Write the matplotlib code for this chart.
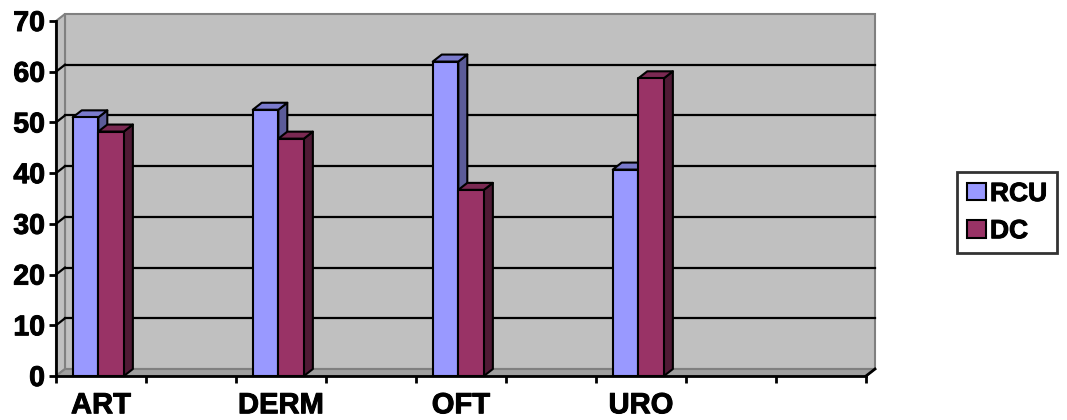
import numpy as np
import matplotlib
matplotlib.use('Agg')
import matplotlib.pyplot as plt
from matplotlib.patches import Polygon, Patch
import matplotlib.patheffects as pe

plt.rcParams['font.family'] = ['Liberation Sans', 'DejaVu Sans']
plt.rcParams['font.weight'] = 'bold'

categories = ['ART', '', 'DERM', '', 'OFT', '', 'URO', '', '']
rcu = [51.0, np.nan, 52.5, np.nan, 62.0, np.nan, 40.7, np.nan, np.nan]
dc = [48.2, np.nan, 46.8, np.nan, 36.7, np.nan, 58.7, np.nan, np.nan]
series_names = ['RCU', 'DC']
yticks = np.arange(0, 80, 10)

# face, top and side colours for each series
face_cols = ['#9999ff', '#993366']
top_cols = ['#7a7acc', '#7a2952']
side_cols = ['#5c5c99', '#4f1a35']

W, H, DPI = 1067, 420, 100
fig = plt.figure(figsize=(W / DPI, H / DPI), dpi=DPI)
left, right, bottom, top = 56, 866, 376, 21
ax = fig.add_axes([left / W, 1 - bottom / H, (right - left) / W, (bottom - top) / H])
n = len(categories)
ymax = yticks[-1]
ax.set_xlim(0, n)
ax.set_ylim(0, ymax)
ax.patch.set_visible(False)

# depth of the box in pixels, converted to data units
dpx, dpy = 9, 7
dx = dpx / ((right - left) / n)
dy = dpy / ((bottom - top) / ymax)

wall = dict(facecolor='#c0c0c0', edgecolor='#808080', lw=1.5, clip_on=False)
ax.add_patch(Polygon([(dx, dy), (n + dx, dy), (n + dx, ymax + dy), (dx, ymax + dy)],
                     zorder=0, **wall))
ax.add_patch(Polygon([(0, 0), (dx, dy), (dx, ymax + dy), (0, ymax)], zorder=0, **wall))
ax.add_patch(Polygon([(0, 0), (n, 0), (n + dx, dy), (dx, dy)], zorder=0.5,
                     facecolor='#a0a0a0', edgecolor='#808080', lw=1.5, clip_on=False))

for v in yticks[1:-1]:
    ax.plot([dx, n + dx], [v + dy, v + dy], color='black', lw=1.6, zorder=1, clip_on=False)
    ax.plot([0, dx], [v, v + dy], color='black', lw=1.6, zorder=1, clip_on=False)

w = 0.284
shift = -0.03
for i in range(n):
    for s, vals in enumerate([rcu, dc]):
        v = vals[i]
        if np.isnan(v):
            continue
        x0 = i + 0.5 + shift + (s - 1) * w
        kw = dict(edgecolor='black', lw=1.5, joinstyle='round', clip_on=False, zorder=3 + s)
        ax.add_patch(Polygon([(x0 + w, 0), (x0 + w + dx, dy), (x0 + w + dx, v + dy), (x0 + w, v)],
                             facecolor=side_cols[s], **kw))
        ax.add_patch(Polygon([(x0, v), (x0 + w, v), (x0 + w + dx, v + dy), (x0 + dx, v + dy)],
                             facecolor=top_cols[s], **kw))
        ax.add_patch(Polygon([(x0, 0), (x0 + w, 0), (x0 + w, v), (x0, v)],
                             facecolor=face_cols[s], **kw))

# front axis lines
ax.plot([n, n + dx], [0, dy], color='black', lw=2, zorder=6, clip_on=False)
for sp in ['top', 'right']:
    ax.spines[sp].set_visible(False)
for sp in ['left', 'bottom']:
    ax.spines[sp].set_linewidth(2)
    ax.spines[sp].set_zorder(6)

ax.set_yticks(yticks)
ax.set_xticks(np.arange(n + 1))
ax.set_xticklabels([])
ax.set_xticks(np.arange(n) + 0.5, minor=True)
ax.set_xticklabels(categories, minor=True)
ax.tick_params(axis='x', which='major', length=5, width=2, direction='out')
ax.tick_params(axis='x', which='minor', length=0, pad=11, labelsize=21)
ax.tick_params(axis='y', length=5, width=2, direction='out', pad=3, labelsize=20.5)

# heavier strokes on the labels
thick = [pe.withStroke(linewidth=0.7, foreground='black')]

handles = [Patch(facecolor=c, edgecolor='black', lw=1.5) for c in face_cols]
leg = fig.legend(handles, series_names, loc='upper left',
                 bbox_to_anchor=(957 / W, 1 - 172 / H), borderaxespad=0,
                 fontsize=19, fancybox=False, handlelength=0.72, handleheight=0.64,
                 handletextpad=0.15, labelspacing=0.5, borderpad=0.38)
leg.get_frame().set_edgecolor('black')
leg.get_frame().set_linewidth(2)

for t in ax.get_xticklabels(minor=True) + ax.get_yticklabels() + leg.get_texts():
    t.set_path_effects(thick)

fig.savefig('out.png', dpi=DPI)
